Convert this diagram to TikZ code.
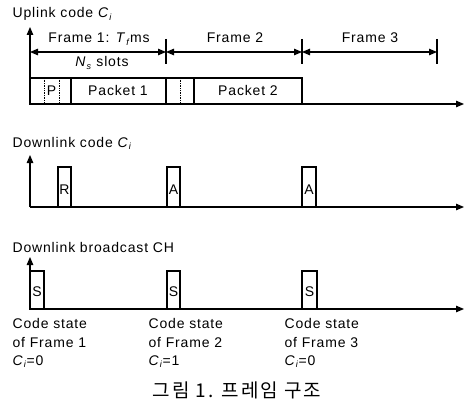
\documentclass[tikz,border=0pt]{standalone}
\usepackage{fontspec}
\setmainfont{Liberation Sans}[LetterSpace=6]
\newfontfamily\krfont{Noto Sans CJK KR}[LetterSpace=10]
\usetikzlibrary{arrows.meta}
\newcommand\ital[2]{\textit{#1}\kern0.3pt\raisebox{-2.5pt}{\fontsize{9}{9}\selectfont\textit{#2}}}
\begin{document}
\begin{tikzpicture}[x=1pt,y=-1pt,line width=1.2pt,
  font=\fontsize{14}{16}\selectfont,
  tipend/.style={-{Triangle[length=8pt,width=6.5pt]}},
  twoend/.style={{Triangle[length=8pt,width=6.5pt]}-{Triangle[length=8pt,width=6.5pt]}},
  lbl/.style={inner sep=0pt,anchor=base west},
  inbox/.style={inner sep=0pt,anchor=base},
  slotline/.style={line width=0.7pt,densely dotted}]
\useasboundingbox (0,0) rectangle (465,406);

% ---------- Uplink ----------
\node[lbl] (t1) at (12,18) {Uplink code \ital{C}{i}};
\coordinate (o1) at (30,104);
\coordinate (y1) at (30,27);
\coordinate (x1) at (464,104);
\draw[tipend] (o1) -- (y1);
\draw[tipend] (o1) -- (x1);

\coordinate (f0) at (30,52);
\coordinate (f1) at (166,52);
\coordinate (f2) at (302,52);
\coordinate (f3) at (437,52);
\draw (166,39) -- (166,64);
\draw (302,39) -- (302,64);
\draw (437,39) -- (437,64);
\draw[twoend] (f0) -- (f1);
\draw[twoend] (f1) -- (f2);
\draw[twoend] (f2) -- (f3);
\node[inbox] (fr1) at (99,43) {Frame 1: \ital{T}{f}ms};
\node[inbox] (fr2) at (235,43) {Frame 2};
\node[inbox] (fr3) at (370,43) {Frame 3};
\node[inbox] (ns) at (102,67) {\ital{N}{s} slots};

\draw (30,78) rectangle (302,104);
\draw[slotline] (44,78) -- (44,104);
\draw[slotline] (59,78) -- (59,104);
\draw (71,78) -- (71,104);
\draw (166,78) -- (166,104);
\draw[slotline] (180,78) -- (180,104);
\draw (194,78) -- (194,104);
\node[inbox] (p) at (51.5,96) {P};
\node[inbox] (pk1) at (118,96) {Packet 1};
\node[inbox] (pk2) at (248,96) {Packet 2};

% ---------- Downlink code ----------
\node[lbl] (t2) at (12,147) {Downlink code \ital{C}{i}};
\coordinate (o2) at (30,207);
\coordinate (y2) at (30,155);
\coordinate (x2) at (464,207);
\draw[tipend] (o2) -- (y2);
\draw[tipend] (o2) -- (x2);
\draw (58,207) rectangle (71,167);
\draw (167,207) rectangle (180,167);
\draw (302,207) rectangle (316,167);
\node[inbox] (r) at (64.5,194) {R};
\node[inbox] (a1) at (173.5,194) {A};
\node[inbox] (a2) at (309,194) {A};

% ---------- Downlink broadcast ----------
\node[lbl] (t3) at (12,252) {Downlink broadcast CH};
\coordinate (o3) at (30,309);
\coordinate (y3) at (30,257);
\coordinate (x3) at (464,309);
\draw[tipend] (o3) -- (y3);
\draw[tipend] (o3) -- (x3);
\draw (30,309) rectangle (44,271);
\draw (167,309) rectangle (180,271);
\draw (302,309) rectangle (317,271);
\node[inbox] (s1) at (37,296) {S};
\node[inbox] (s2) at (173.5,296) {S};
\node[inbox] (s3) at (309.5,296) {S};

% ---------- Code states ----------
\node[lbl] (c1a) at (12,328) {Code state};
\node[lbl] (c1b) at (12,347) {of Frame 1};
\node[lbl] (c1c) at (12,365) {\ital{C}{i}=0};
\node[lbl] (c2a) at (148,328) {Code state};
\node[lbl] (c2b) at (148,347) {of Frame 2};
\node[lbl] (c2c) at (148,365) {\ital{C}{i}=1};
\node[lbl] (c3a) at (284,328) {Code state};
\node[lbl] (c3b) at (284,347) {of Frame 3};
\node[lbl] (c3c) at (284,365) {\ital{C}{i}=0};

\node[inbox,font=\krfont\fontsize{19}{21}\selectfont] (cap) at (237,397) {그림 1. 프레임 구조};
\end{tikzpicture}
\end{document}
